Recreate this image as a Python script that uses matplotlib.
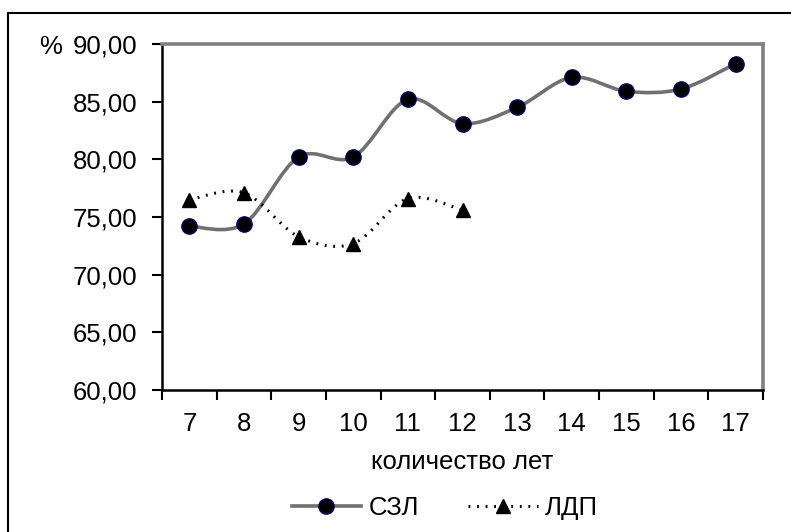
import matplotlib
matplotlib.use("Agg")
from matplotlib import pyplot as plt
from matplotlib.path import Path
from matplotlib.patches import PathPatch, Rectangle
from matplotlib.lines import Line2D
import numpy as np

plt.rcParams['font.family'] = ['Liberation Sans', 'DejaVu Sans']

years = ['7', '8', '9', '10', '11', '12', '13', '14', '15', '16', '17']
szl = [74.2, 74.4, 80.2, 80.2, 85.2, 83.1, 84.5, 87.1, 85.9, 86.1, 88.3]
ldp = [76.5, 77.1, 73.3, 72.7, 76.6, 75.6]
y_ticks = [60, 65, 70, 75, 80, 85, 90]

FS = 18.5


def smooth_path(xs, ys):
    # Excel-style smoothing: cubic Bezier segments through the points
    pts = np.column_stack([xs, ys]).astype(float)
    verts = [pts[0]]
    codes = [Path.MOVETO]
    n = len(pts)
    for i in range(n - 1):
        p0 = pts[i - 1] if i > 0 else pts[i]
        p1 = pts[i]
        p2 = pts[i + 1]
        p3 = pts[i + 2] if i + 2 < n else pts[i + 1]
        c1 = p1 + (p2 - p0) / 6.0
        c2 = p2 - (p3 - p1) / 6.0
        verts += [c1, c2, p2]
        codes += [Path.CURVE4] * 3
    return Path(verts, codes)


fig = plt.figure(figsize=(7.91, 5.32), dpi=100)
ax = fig.add_axes([162 / 791, 1 - 390 / 532, (763 - 162) / 791, (390 - 44) / 532])

x1 = np.arange(len(szl))
x2 = np.arange(len(ldp))

ax.add_patch(PathPatch(smooth_path(x1, szl), facecolor='none', edgecolor='#707070', lw=2.6, zorder=2))
ax.add_patch(PathPatch(smooth_path(x2, ldp), facecolor='none', edgecolor='black', lw=2.2,
                       linestyle=(0, (0.6, 2.2)), zorder=2))
ax.plot(x1, szl, linestyle='none', marker='o', ms=11, mfc='black', mec='#000060', mew=1, zorder=3)
ax.plot(x2, ldp, linestyle='none', marker='^', ms=10, mfc='black', mec='black', zorder=3)

ax.set_xlim(-0.5, len(years) - 0.5)
ax.set_ylim(60, 90)
ax.set_yticks(y_ticks)
ax.set_yticklabels([f"{v:.2f}".replace('.', ',') for v in y_ticks])
ax.set_xticks(np.arange(len(years) + 1) - 0.5)
ax.set_xticklabels([])
ax.set_xticks(np.arange(len(years)), minor=True)
ax.set_xticklabels(years, minor=True)
ax.tick_params(axis='x', which='major', direction='out', length=7, width=1.5)
ax.tick_params(axis='x', which='minor', length=0, pad=16, labelsize=FS)
ax.tick_params(axis='y', direction='out', length=7, width=1.5, pad=11, labelsize=FS)

for s in ['left', 'bottom']:
    ax.spines[s].set_color('black')
    ax.spines[s].set_linewidth(1.8)
for s in ['top', 'right']:
    ax.spines[s].set_color('#808080')
    ax.spines[s].set_linewidth(2.6)

ax.set_xlabel('количество лет', fontsize=FS, labelpad=10)
fig.text(51 / 791, 1 - 47 / 532, '%', fontsize=FS, ha='center', va='center')

handles = [
    Line2D([], [], color='#707070', lw=2.6, marker='o', ms=11, mfc='black', mec='#000060'),
    Line2D([], [], color='black', lw=2.2, linestyle=(0, (0.6, 2.2)), marker='^', ms=10, mfc='black', mec='black'),
]
fig.legend(handles, ['СЗЛ', 'ЛДП'], loc='center', bbox_to_anchor=(445 / 791, 1 - 508 / 532),
           ncol=2, frameon=False, fontsize=FS, handlelength=2.7, columnspacing=1.9, handletextpad=0.3)

fig.patches.append(Rectangle((8 / 791, -0.1), 1.2, 1 - 13 / 532 + 0.1, transform=fig.transFigure,
                             fill=False, edgecolor='black', lw=1.5))

fig.savefig('out.png', dpi=100)
